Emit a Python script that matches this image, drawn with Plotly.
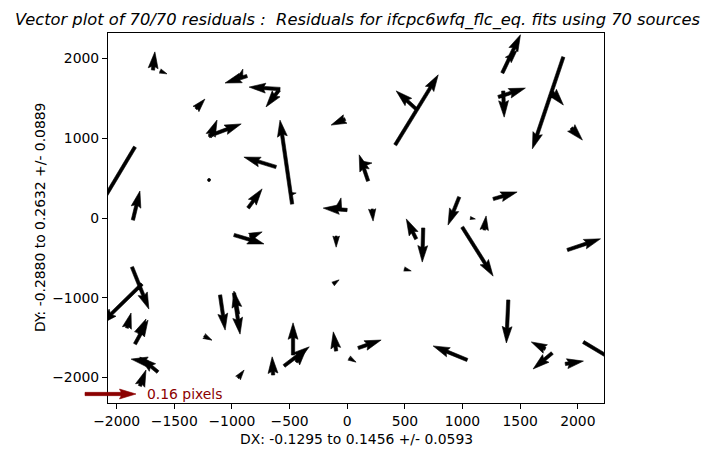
import numpy as np
import plotly.graph_objects as go

# ---------------- data ----------------
x_pos = [-1685, -1624, -869, -930, -583, -591, -1312, -1199, -1190, -617,
         -1841, -1199, -1859, -860, -982, -843, -1867, -1780, -1911, -1841,
         -1103, -947, -982, -1242, -1728, -1642, -1798, -947, -643, -470,
         -548, -444, -96, 16, 95, 1041, 1397, 1718, 1778, 1891,
         2048, 971, 1067, 1188, 1266, 997, 1909, -478, -487, -18,
         416, 607, 1345, 1397, 1353, 1310, 1874, 1778, 1943, 181,
         129, -1, -79, 216, -96, 598, 659, 494, -123, -1806]
y_pos = [1854, 1842, 1779, 1754, 1616, 1604, 1366, 1027, 1015, 639,
         890, 476, -25, 125, -213, -238, -614, -827, -1378, -1579,
         -965, -1203, -940, -1479, -1804, -1930, -2105, -2005, -1967, -1717,
         -1854, -1804, -1666, -1754, -1629, -1779, -1027, -1641, -1692, -1829,
         -1554, 263, 0, -150, 238, -113, -401, 175, 301, 1240,
         915, 1353, 1817, 1980, 1591, 1516, 2017, 1579, 1128, 464,
         677, 100, 100, 113, -226, -263, -125, -639, -827, -1453]
dx_res = [0.006, 0.022, -0.069, 0.009, -0.097, -0.041, 0.028, 0.101, 0.022, -0.101,
          -0.126, 0.003, 0.022, 0.044, 0.094, 0.038, 0.053, -0.1295, 0.013, 0.041,
          0.016, -0.013, 0.019, 0.025, -0.053, -0.057, 0.019, 0.019, -0.003, 0.000,
          0.079, 0.031, -0.009, 0.022, 0.072, -0.107, -0.006, -0.044, -0.060, 0.057,
          0.1456, -0.035, 0.016, 0.006, 0.075, 0.097, 0.104, -0.038, 0.016, -0.044,
          0.135, -0.066, 0.057, 0.028, 0.003, 0.085, -0.097, 0.035, 0.035, -0.028,
          0.031, -0.075, 0.009, 0.003, 0.000, -0.031, -0.003, 0.022, 0.019, 0.022]
dy_res = [0.057, -0.009, -0.022, 0.028, 0.006, -0.053, 0.031, 0.038, 0.053, 0.031,
          -0.210, 0.000, 0.091, 0.060, -0.028, 0.016, -0.132, -0.126, 0.047, 0.075,
          -0.110, 0.072, -0.129, -0.013, 0.009, 0.047, 0.050, 0.025, 0.057, 0.101,
          0.060, 0.038, 0.060, -0.013, 0.025, 0.044, -0.135, 0.022, -0.050, 0.009,
          -0.087, -0.088, -0.003, 0.044, 0.022, -0.154, 0.035, 0.2632, 0.003, -0.019,
          0.220, 0.060, 0.120, 0.031, -0.082, 0.028, -0.288, -0.041, -0.038, 0.082,
          0.003, 0.006, 0.038, -0.038, -0.035, 0.063, -0.107, -0.006, 0.013, 0.047]

key_value = 0.16
key_label = "0.16 pixels"
title_text = "Vector plot of 70/70 residuals :  Residuals for ifcpc6wfq_flc_eq. fits using 70 sources"
xlabel_text = "DX: -0.1295 to 0.1456 +/- 0.0593"
ylabel_text = "DY: -0.2880 to 0.2632 +/- 0.0889"
x_ticks = [-2000, -1500, -1000, -500, 0, 500, 1000, 1500, 2000]
y_ticks = [-2000, -1000, 0, 1000, 2000]

# ---------------- layout / style ----------------
W, H = 714, 456
ML, MR, MT, MB = 108, 110, 33, 53
PW, PH = W - ML - MR, H - MT - MB
XR = [-2075, 2227]
YR = [-2318, 2318]
px_per_x = PW / (XR[1] - XR[0])
px_per_y = PH / (YR[1] - YR[0])
PX_PER_RES = 51.0 / key_value   # arrow scale (pixels of screen per residual pixel)
WID = 3.3                        # shaft width in px
HL, HAL, HW = 5.0, 4.5, 3.0      # matplotlib quiver head params (width units)
FONT = "DejaVu Sans"
KEY_COLOR = "#8b0000"


def arrow_local(L):
    """matplotlib-style quiver arrow polygon (px), along +x, tail at origin."""
    Lw = L / WID
    ii = [0, 1, 2, 3, 2, 1, 0, 0]
    if Lw < 1.0:
        th = np.arange(8) * np.pi / 3.0
        xs = np.cos(th) * 0.5
        ys = np.sin(th) * 0.5
    elif Lw < HL:
        x0 = np.array([0, HL - HAL, HL - HL, HL])
        y0 = 0.5 * np.array([1, 1, HW, 0])
        xs = x0[ii].copy()
        ys = y0[ii].copy()
        ys[3:-1] *= -1
        s = Lw / HL
        xs *= s
        ys *= s
    else:
        x = np.array([0, -HAL, -HL, 0]) + np.array([0, 1, 1, 1]) * Lw
        y = 0.5 * np.array([1, 1, HW, 0])
        xs = x[ii].copy()
        ys = y[ii].copy()
        ys[3:-1] *= -1
    return xs * WID, ys * WID


def rotated(xs, ys, u, v):
    th = np.arctan2(v, u)
    c, s = np.cos(th), np.sin(th)
    return xs * c - ys * s, xs * s + ys * c


px_all, py_all = [], []
for x0, y0, dx, dy in zip(x_pos, y_pos, dx_res, dy_res):
    u, v = dx * PX_PER_RES, dy * PX_PER_RES
    L = np.hypot(u, v)
    xs, ys = arrow_local(L)
    rx, ry = rotated(xs, ys, u, v)
    px_all.extend(list(x0 + rx / px_per_x) + [None])
    py_all.extend(list(y0 + ry / px_per_y) + [None])

fig = go.Figure()
fig.add_trace(go.Scatter(x=px_all, y=py_all, mode="lines", fill="toself",
                         fillcolor="black", line=dict(width=0.6, color="black"),
                         hoverinfo="skip", showlegend=False))

# quiver key (pivot at tip), drawn in paper coordinates
kL = key_value * PX_PER_RES
kx, ky = arrow_local(kL)
kx = kx - kL
tip_px, key_py = 136.0, 394.0   # screen position of key tip
path = ""
for i, (a, b) in enumerate(zip(kx, ky)):
    sx = tip_px + a
    sy = key_py - b
    pxp = (sx - ML) / PW
    pyp = (H - MB - sy) / PH
    path += ("M" if i == 0 else "L") + f"{pxp:.5f},{pyp:.5f} "
path += "Z"
fig.add_shape(type="path", path=path, xref="paper", yref="paper",
              fillcolor=KEY_COLOR, line=dict(width=0.6, color=KEY_COLOR))

fig.add_annotation(text=key_label, x=(145 - ML) / PW, y=(H - MB - key_py) / PH,
                   xref="paper", yref="paper", xanchor="left", yanchor="middle",
                   showarrow=False, font=dict(family=FONT, size=13.9, color=KEY_COLOR))

fig.add_annotation(text=title_text, x=(357 - ML) / PW, y=(H - MB - 20) / PH,
                   xref="paper", yref="paper",
                   xanchor="center", yanchor="middle", showarrow=False,
                   font=dict(family=FONT, size=16.3, color="black", style="italic"))
fig.add_annotation(text=xlabel_text, x=0.5, y=(H - MB - 439) / PH, xref="paper", yref="paper",
                   xanchor="center", yanchor="middle", showarrow=False,
                   font=dict(family=FONT, size=13.9, color="black"))
fig.add_annotation(text=ylabel_text, x=(40 - ML) / PW, y=0.5, xref="paper", yref="paper",
                   xanchor="center", yanchor="middle", showarrow=False, textangle=-90,
                   font=dict(family=FONT, size=13.9, color="black"))

axis_common = dict(showgrid=False, zeroline=False, showline=True, linecolor="black",
                   linewidth=1.1, mirror=True, ticks="outside", ticklen=5, tickwidth=1.1,
                   tickcolor="black", tickfont=dict(family=FONT, size=13.9, color="black"))
fig.update_xaxes(range=XR, tickvals=x_ticks, **axis_common)
fig.update_yaxes(range=YR, tickvals=y_ticks, **axis_common)
fig.update_layout(width=W, height=H, margin=dict(l=ML, r=MR, t=MT, b=MB, autoexpand=False),
                  paper_bgcolor="white", plot_bgcolor="white", showlegend=False)

fig.write_html("out.html")
